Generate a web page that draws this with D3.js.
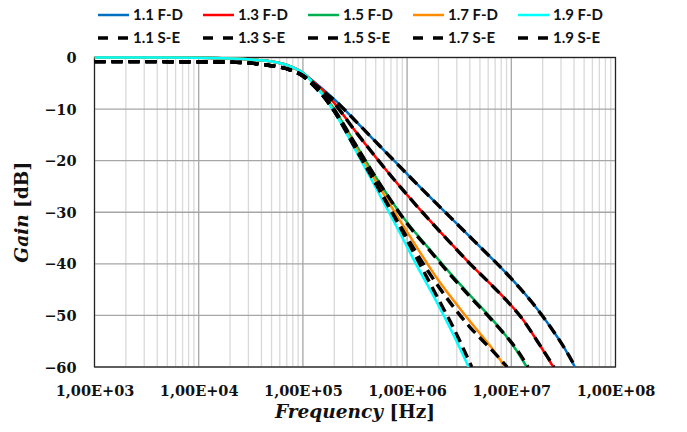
<!DOCTYPE html>
<html>
<head>
<meta charset="utf-8">
<script src="https://cdn.jsdelivr.net/npm/d3@7"></script>
<style>
  body { margin: 0; background: #fff; }
  svg { display: block; }
  .tick-label { font-family: "DejaVu Serif", serif; font-weight: bold; font-size: 14.5px; fill: #111; }
  .legend-text { font-family: Lato, "Open Sans", sans-serif; font-weight: bold; font-size: 15px; fill: #111; }
  .axis-title { font-family: "DejaVu Serif", serif; font-weight: bold; font-size: 18.5px; fill: #111; }
</style>
</head>
<body>
<svg id="chart" width="687" height="432"></svg>
<script>
// x domain (Hz) and y domain (dB)
const freqDomain = [1e3, 1e8];
const gainDomain = [-60, 0];
const xTickValues = [1e3, 1e4, 1e5, 1e6, 1e7, 1e8];
const yTickValues = [0, -10, -20, -30, -40, -50, -60];

const seriesNames = ["1.1 F-D", "1.3 F-D", "1.5 F-D", "1.7 F-D", "1.9 F-D",
                     "1.1 S-E", "1.3 S-E", "1.5 S-E", "1.7 S-E", "1.9 S-E"];
const seriesColors = ["#0070C0", "#FF0000", "#00B050", "#FF8C00", "#00FFFF",
                      "#000000", "#000000", "#000000", "#000000", "#000000"];

// [log10(f), gain dB]
const fd11 = [[3,0],[3.5,0],[4,-0.05],[4.3,-0.2],[4.5,-0.4],[4.7,-0.8],[4.85,-1.5],[5,-3],[5.1,-4.6],
  [5.2,-6.3],[5.327,-8.6],[5.5,-12.2],[5.75,-17.4],[6.044,-23.5],[6.411,-30.9],[6.635,-35.4],
  [6.988,-42.6],[7.2,-47.5],[7.371,-52.1],[7.5,-56.0],[7.611,-60]];
const fd13 = [[3,0],[3.5,0],[4,-0.05],[4.3,-0.2],[4.5,-0.4],[4.7,-0.8],[4.85,-1.5],[5,-3],[5.1,-4.7],
  [5.2,-6.5],[5.288,-8.5],[5.5,-14.2],[5.868,-23.5],[6.191,-31.0],[6.4,-35.6],[6.6,-39.9],
  [6.8,-43.9],[6.95,-47.0],[7.1,-50.5],[7.25,-55.0],[7.403,-60]];
const fd15 = [[3,0],[3.5,0],[4,-0.05],[4.3,-0.2],[4.5,-0.4],[4.7,-0.8],[4.85,-1.5],[5,-3],[5.1,-4.9],
  [5.2,-7.2],[5.3,-10.0],[5.5,-16.6],[5.7,-23.2],[5.85,-27.8],[6.0,-32.0],[6.2,-36.8],[6.4,-41.5],
  [6.6,-46.0],[6.8,-50.4],[6.95,-54.0],[7.05,-56.8],[7.148,-60]];
const fd17 = [[3,0],[3.5,0],[4,-0.05],[4.3,-0.2],[4.5,-0.4],[4.7,-0.8],[4.85,-1.5],[5,-3],[5.1,-5.0],
  [5.2,-7.3],[5.3,-10.3],[5.5,-17.2],[5.7,-24.0],[5.9,-30.6],[6.1,-37.0],[6.3,-43.2],
  [6.5,-48.5],[6.65,-52.3],[6.8,-56.0],[6.94,-60]];
const fd19 = [[3,0],[3.5,0],[4,-0.05],[4.3,-0.2],[4.5,-0.4],[4.7,-0.8],[4.85,-1.5],[5,-3],[5.1,-5.0],
  [5.2,-7.5],[5.3,-10.5],[5.5,-17.8],[5.673,-24.2],[5.915,-33.4],[6.1,-40.6],[6.284,-47.4],
  [6.45,-54.0],[6.59,-60]];
const se11 = [[3,-0.8],[3.5,-0.8],[4,-0.85],[4.3,-0.9],[4.5,-1.1],[4.65,-1.45],[4.876,-2.4],[5,-3.5],
  [5.1,-5.0],[5.2,-6.6],[5.327,-8.7],[5.5,-12.2],[5.75,-17.4],[6.044,-23.5],[6.411,-30.9],[6.635,-35.4],
  [6.988,-42.6],[7.2,-47.5],[7.371,-52.1],[7.5,-56.0],[7.615,-60]];
const se13 = [[3,-0.8],[3.5,-0.8],[4,-0.85],[4.3,-0.9],[4.5,-1.1],[4.65,-1.45],[4.876,-2.4],[5,-3.5],
  [5.1,-5.1],[5.2,-6.8],[5.288,-8.6],[5.5,-14.2],[5.868,-23.5],[6.191,-31.0],[6.4,-35.6],[6.6,-39.9],
  [6.8,-43.9],[6.95,-47.0],[7.1,-50.5],[7.25,-55.0],[7.41,-60]];
const se15 = [[3,-0.8],[3.5,-0.8],[4,-0.85],[4.3,-0.9],[4.5,-1.1],[4.65,-1.45],[4.876,-2.4],[5,-3.6],
  [5.1,-5.3],[5.2,-7.5],[5.3,-10.1],[5.5,-16.7],[5.7,-23.3],[5.85,-27.9],[6.0,-32.2],[6.2,-37.0],
  [6.4,-41.8],[6.6,-46.3],[6.8,-50.6],[6.95,-54.0],[7.06,-56.8],[7.16,-60]];
const se17 = [[3,-0.8],[3.5,-0.8],[4,-0.85],[4.3,-0.9],[4.5,-1.1],[4.65,-1.45],[4.876,-2.4],[5,-3.6],
  [5.1,-5.4],[5.2,-7.6],[5.3,-10.4],[5.5,-17.5],[5.72,-25.2],[5.9,-31.5],[6.0,-34.9],[6.2,-41.4],
  [6.443,-48.3],[6.6,-52.2],[6.731,-55.0],[6.85,-57.5],[6.96,-60]];
const se19 = [[3,-0.8],[3.5,-0.8],[4,-0.85],[4.3,-0.9],[4.5,-1.1],[4.65,-1.45],[4.876,-2.4],[5,-3.6],
  [5.1,-5.4],[5.2,-7.6],[5.3,-10.4],[5.5,-17.2],[5.673,-23.4],[5.93,-32.8],[6.1,-39.2],[6.315,-47.4],
  [6.45,-52.6],[6.62,-60]];

const seriesData = [fd11, fd13, fd15, fd17, fd19, se11, se13, se15, se17, se19];

const plot_left = 94.5;
const plot_right = 615.5;
const plot_top = 57.5;
const plot_bottom = 367;

const svg = d3.select("#chart");

const xScale = d3.scaleLog().domain(freqDomain).range([plot_left, plot_right]);
const yScale = d3.scaleLinear().domain(gainDomain).range([plot_bottom, plot_top]);

// minor grid: 2..9 in every decade
const minorTicks = [];
for (let d = 3; d < 8; d++) {
  for (let m = 2; m <= 9; m++) minorTicks.push(m * Math.pow(10, d));
}

const grid = svg.append("g");

grid.selectAll(".minor-x")
  .data(minorTicks)
  .join("line")
  .attr("x1", d => xScale(d)).attr("x2", d => xScale(d))
  .attr("y1", plot_top).attr("y2", plot_bottom)
  .attr("stroke", "#d9d9d9").attr("stroke-width", 1.3);

grid.selectAll(".major-x")
  .data(xTickValues)
  .join("line")
  .attr("x1", d => xScale(d)).attr("x2", d => xScale(d))
  .attr("y1", plot_top).attr("y2", plot_bottom)
  .attr("stroke", "#a6a6a6").attr("stroke-width", 1.3);

grid.selectAll(".major-y")
  .data(yTickValues)
  .join("line")
  .attr("x1", plot_left).attr("x2", plot_right)
  .attr("y1", d => yScale(d)).attr("y2", d => yScale(d))
  .attr("stroke", "#a6a6a6").attr("stroke-width", 1.3);

// frame
svg.append("rect")
  .attr("x", plot_left).attr("y", plot_top)
  .attr("width", plot_right - plot_left).attr("height", plot_bottom - plot_top)
  .attr("fill", "none").attr("stroke", "#222").attr("stroke-width", 1.2);

svg.append("clipPath").attr("id", "clip")
  .append("rect")
  .attr("x", plot_left).attr("y", plot_top - 4)
  .attr("width", plot_right - plot_left).attr("height", plot_bottom - plot_top + 4);

const line = d3.line()
  .x(d => xScale(Math.pow(10, d[0])))
  .y(d => yScale(d[1]))
  .curve(d3.curveMonotoneX);

svg.append("g").attr("clip-path", "url(#clip)")
  .selectAll(".curve")
  .data(seriesData)
  .join("path")
  .attr("d", line)
  .attr("fill", "none")
  .attr("stroke", (d, i) => seriesColors[i])
  .attr("stroke-width", (d, i) => i < 5 ? 2.5 : 3.4)
  .attr("stroke-dasharray", (d, i) => i < 5 ? null : "11,6");

// axes tick labels
svg.append("g")
  .attr("transform", "translate(0," + (plot_bottom + 24) + ")")
  .call(d3.axisBottom(xScale).tickValues(xTickValues).tickSize(0).tickFormat(d => "1,00E+0" + Math.round(Math.log10(d))))
  .call(g => g.select(".domain").remove())
  .selectAll("text").attr("class", "tick-label").attr("dy", "0.35em").attr("y", 0);

svg.append("g")
  .attr("transform", "translate(" + (plot_left - 18) + ",0)")
  .call(d3.axisLeft(yScale).tickValues(yTickValues).tickSize(0).tickFormat(d3.format("d")))
  .call(g => g.select(".domain").remove())
  .selectAll("text").attr("class", "tick-label").attr("x", 0).attr("dy", "0.35em");

// axis titles
const xt = svg.append("text").attr("class", "axis-title")
  .attr("x", (plot_left + plot_right) / 2).attr("y", 418).attr("text-anchor", "middle");
xt.append("tspan").attr("font-style", "italic").text("Frequency");
xt.append("tspan").text(" [Hz]");

const yt = svg.append("text").attr("class", "axis-title")
  .attr("transform", "translate(28," + ((plot_top + plot_bottom) / 2) + ") rotate(-90)")
  .attr("text-anchor", "middle");
yt.append("tspan").attr("font-style", "italic").text("Gain");
yt.append("tspan").text(" [dB]");

// legend
const legend = svg.append("g")
  .selectAll(".legend-item")
  .data(seriesNames)
  .join("g")
  .attr("transform", (d, i) => "translate(" + (98 + 105 * (i % 5)) + "," + (i < 5 ? 15 : 38) + ")");

legend.append("line")
  .attr("x1", 0).attr("x2", 31).attr("y1", 0).attr("y2", 0)
  .attr("stroke", (d, i) => seriesColors[i])
  .attr("stroke-width", (d, i) => i < 5 ? 2.5 : 3.4)
  .attr("stroke-dasharray", (d, i) => i < 5 ? null : "10,10");

legend.append("text")
  .attr("class", "legend-text")
  .attr("x", 35).attr("y", 0).attr("dy", "0.35em")
  .text(d => d);
</script>
</body>
</html>
